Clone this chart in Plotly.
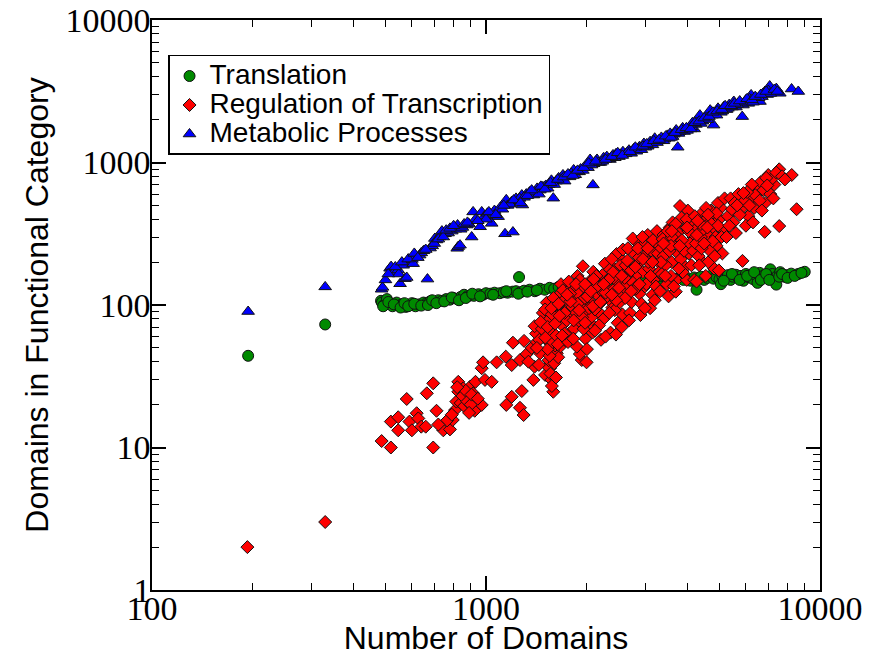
import plotly.graph_objects as go

# ---------------- data ----------------
translation_x = [194, 330,
    485, 488, 495, 505, 515, 525, 540, 550, 560, 575, 590, 600, 615, 630, 650, 665, 680, 700,
    720, 740, 760, 780, 800, 820, 840, 860, 880, 900, 920, 950, 980, 1000, 1030, 1060, 1100, 1130, 1160, 1200,
    1256, 1230, 1270, 1300, 1350, 1400, 1450, 1500, 1550, 1600, 1650, 1700, 1750, 1800, 1850, 1900, 1950, 2000, 2090, 2150,
    2200, 2300, 2400, 2500, 2600, 2700, 2800, 2900, 3000, 3100, 3200, 3300, 3400, 3500, 3600, 3700, 3800, 3900, 4000, 4100,
    4200, 4300, 4400, 4500, 4600, 4700, 4800, 4900, 5000, 5100, 5200, 5300, 5400, 5500, 5600, 5700, 5800, 5900, 6000, 6100,
    6200, 6300, 6450, 6600, 6700, 6800, 6950, 7100, 7200, 7300, 7450, 7600, 7800, 7900, 8200, 8600, 9000,
    4270, 7400, 5050, 6500, 3300,
    492, 510, 530, 555, 570, 585, 610, 640, 670, 690, 710, 750, 790, 830, 870, 910, 960, 1050, 1150, 1250,
    1330, 1420, 5150, 5450, 5750, 6050, 6350, 6650, 6900, 7050, 7550, 7700, 8000, 8400, 8800]
translation_y = [44, 73,
    107, 104, 100, 110, 102, 98, 104, 99, 101, 97, 100, 103, 98, 101, 104, 103, 106, 105,
    108, 107, 110, 109, 112, 110, 114, 118, 115, 117, 116, 119, 118, 121, 120, 122, 121, 123, 122, 124,
    157, 125, 123, 126, 128, 125, 130, 128, 132, 130, 134, 133, 136, 134, 138, 136, 140, 138, 145, 140,
    143, 141, 145, 143, 147, 144, 148, 146, 150, 147, 151, 149, 153, 150, 146, 152, 155, 150, 154, 148,
    156, 152, 158, 150, 155, 160, 153, 157, 152, 160, 155, 162, 150, 158, 163, 155, 160, 148, 165, 157,
    162, 152, 160, 168, 156, 162, 158, 178, 165, 152, 160, 170, 158, 162, 166, 165, 171,
    128, 139, 140, 143, 135,
    98, 105, 101, 96, 103, 98, 102, 99, 100, 108, 103, 106, 113, 108, 112, 120, 115, 118, 125, 120,
    124, 127, 148, 165, 150, 160, 170, 150, 165, 150, 158, 165, 155, 160, 168]

regulation_x = [
    193, 330,
    487, 519, 695, 579, 665, 695, 711, 519, 546, 546,
    590, 600, 620, 627, 640, 660, 745, 780, 795, 808,
    815, 826, 826, 855, 875, 896, 915, 930, 925, 971,
    993, 1040, 971, 980, 1076, 1146, 1150, 1194, 1204, 1194,
    1264, 1280, 1264, 1296, 1324, 1386, 1397, 1452, 1503, 1555,
    1570, 1590, 1555, 1629, 1667, 1725, 1775, 1935, 2000, 1910,
    840, 850, 860, 870, 880, 900, 905, 945, 820, 890,
    765, 790, 720, 1530, 1540, 1560, 1575, 1600, 1620, 1645,
    1585, 1610, 1550, 1340, 1370, 1420, 1440, 1480, 1300,
    # 1400-1700
    1412, 1655, 1530, 1480, 1690, 1445, 1602, 1566, 1398, 1634,
    1520, 1585, 1470, 1677, 1545, 1420, 1620, 1503, 1660, 1592,
    1458, 1575, 1640, 1505, 1700,
    # 1700-2100
    1742, 1985, 1810, 1905, 2060, 1760, 1880, 2020, 1835, 1950,
    1725, 2085, 1795, 1925, 2040, 1870, 1770, 1990, 1850, 2095,
    1720, 1935, 1815, 2005, 1890, 1745, 2070, 1960, 1825, 2035,
    1910, 1785, 1975, 2050, 1860,
    # 2100-2600
    2150, 2480, 2230, 2390, 2110, 2540, 2300, 2190, 2440, 2360,
    2580, 2270, 2130, 2500, 2210, 2420, 2330, 2560, 2170, 2460,
    2250, 2400, 2590, 2140, 2350, 2520, 2280, 2430, 2200, 2570,
    2310, 2490, 2120, 2380, 2260, 2550, 2450, 2180, 2340, 2530,
    # 2600-3300
    2650, 3100, 2780, 2950, 2700, 3220, 2880, 3050, 2620, 2990,
    2830, 3180, 2730, 3280, 2900, 2660, 3000, 2800, 3150, 2750,
    3250, 2850, 3080, 2610, 2960, 2700, 3200, 2920, 3020, 2680,
    3300, 2810, 3130, 2870, 2640, 3060, 2770, 3230, 2940, 3160,
    2720, 2990, 3270, 2850, 3110,
    # 3300-4200
    3350, 3950, 3480, 3800, 3600, 4100, 3400, 3720, 3900, 3550,
    4050, 3320, 3680, 3850, 4180, 3450, 3760, 3990, 3520, 4150,
    3620, 3360, 3880, 3700, 4020, 3470, 3830, 3580, 4120, 3400,
    3750, 3960, 3540, 4080, 3650, 3380, 3920, 3810, 3600, 4200,
    3500, 3700, 3860, 4040, 3440, 4170, 3580, 3780, 3340, 3990,
    # 4200-5200
    4300, 4900, 4450, 4750, 4250, 5050, 4600, 4380, 4820, 4520,
    5150, 4270, 4680, 4950, 4400, 4790, 4550, 5000, 4330, 4720,
    4480, 5100, 4630, 4870, 4220, 4420, 4980, 4770, 4560, 5180,
    4350, 4680, 4900, 4500, 4280, 5070, 4620, 4840, 4400, 4950,
    # 5200-8600
    5300, 6200, 5600, 7000, 5850, 6500, 5400, 6850, 5700, 7300,
    5250, 6100, 6650, 5500, 7550, 5950, 6350, 7150, 5450, 6000,
    6780, 5750, 7400, 6250, 5550, 6900, 5860, 6830, 7550, 8230,
    8510, 6400, 7100, 5650, 6600, 7700, 6050, 5350, 6950, 6300,
    7250, 5900, 7850, 6700, 6150,
    # core fill
    1530, 1720, 1610, 1880, 2010, 1690, 2150, 1790, 2280, 1940,
    2400, 1570, 2090, 1860, 2200, 1660, 2500, 1980, 2330, 1750,
    2600, 2060, 1830, 2450, 2720, 1900, 2250, 2120, 2380, 2650,
    2800, 3050, 2950, 3150, 3400, 3600, 3800, 4000, 4300, 4600,
    2100, 1650, 1980, 2550, 2880]
regulation_y = [
    2, 3,
    11.1, 10.0, 10.0, 21.9, 24.0, 28.2, 18.1, 15.2, 16.3, 13.2,
    15.2, 13.2, 17.4, 16.0, 14.0, 14.0, 13.2, 13.4, 15.6, 18.3,
    21.0, 24.6, 28.9, 26.0, 22.7, 26.7, 24.0, 28.9, 18.1, 19.9,
    29.8, 28.9, 36.0, 39.6, 39.6, 43.4, 19.9, 22.7, 54.4, 37.9,
    41.1, 24.9, 19.0, 16.9, 45.3, 29.8, 36.9, 45.8, 32.3, 36.0,
    29.8, 24.6, 53.8, 45.8, 50.9, 56.8, 63.2, 41.1, 39.6, 45.3,
    20.5, 23.0, 19.5, 25.0, 21.0, 20.0, 23.5, 22.0, 26.5, 17.5,
    15.5, 17.0, 14.5, 37.0, 41.0, 33.0, 27.0, 39.0, 31.0, 43.0,
    48.0, 52.0, 44.0, 40.0, 50.0, 55.0, 38.0, 60.0, 56.0,
    # 1400-1700
    63, 118, 49, 88, 72, 57, 96, 64, 71, 83,
    104, 55, 68, 140, 79, 50, 61, 93, 100, 112,
    76, 86, 53, 59, 127,
    # 1700-2100
    92, 58, 133, 76, 104, 55, 160, 122, 68, 187,
    110, 64, 84, 98, 146, 51, 146, 88, 112, 171,
    63, 130, 97, 49, 119, 78, 82, 68, 58, 95,
    150, 120, 112, 132, 88,
    # 2100-2600
    118, 75, 162, 96, 70, 210, 133, 88, 150, 64,
    124, 195, 142, 103, 57, 180, 110, 86, 100, 228,
    80, 127, 165, 160, 178, 140, 60, 92, 128, 245,
    150, 118, 93, 210, 110, 70, 62, 72, 88, 190,
    # 2600-3300
    140, 95, 230, 170, 88, 260, 120, 310, 190, 135,
    275, 150, 105, 200, 85, 250, 225, 160, 118, 293,
    330, 195, 180, 112, 265, 150, 108, 102, 140, 78,
    170, 130, 240, 215, 160, 200, 185, 135, 300, 285,
    125, 95, 230, 250, 160,
    # 3300-4200
    250, 185, 140, 330, 200, 420, 310, 150, 265, 350,
    230, 125, 280, 410, 300, 190, 230, 150, 115, 360,
    380, 165, 170, 124, 460, 270, 210, 160, 190, 220,
    300, 350, 240, 270, 135, 290, 240, 495, 300, 150,
    330, 370, 285, 330, 160, 240, 260, 180, 200, 400,
    # 4200-5200
    350, 260, 200, 420, 270, 480, 310, 430, 180, 390,
    330, 146, 240, 520, 300, 350, 160, 400, 220, 460,
    340, 230, 200, 300, 420, 250, 175, 280, 480, 560,
    190, 380, 440, 270, 310, 300, 430, 220, 370, 360,
    # 5200-8600
    420, 560, 320, 817, 480, 650, 560, 520, 600, 700,
    300, 420, 730, 380, 896, 540, 480, 760, 470, 360,
    640, 430, 850, 700, 520, 780, 204, 326, 358, 817,
    470, 590, 600, 500, 540, 800, 620, 360, 690, 380,
    560, 610, 760, 460, 500,
    # core fill
    70, 88, 74, 102, 115, 61, 135, 106, 122, 82,
    170, 95, 98, 140, 105, 84, 132, 75, 150, 118,
    155, 125, 78, 108, 175, 92, 140, 66, 118, 205,
    185, 250, 210, 200, 270, 330, 260, 350, 390, 350,
    152, 102, 140, 160, 140]

metabolic_x = [194, 330,
    487, 490, 500, 516, 520, 530, 546, 548, 553, 565, 572, 579, 581, 590, 600, 605, 615, 633,
    640, 650, 668, 680, 690, 703, 711, 725, 738, 754, 770, 790, 810, 820, 822, 826, 836, 840, 850, 876,
    890, 906, 915, 930, 960, 971, 990, 1010, 1040, 1060, 1087, 1100, 1140, 1150, 1160, 1194, 1204, 1230, 1250, 1280,
    1285, 1320, 1350, 1386, 1422, 1450, 1480, 1510, 1540, 1570, 1590, 1620, 1650, 1700, 1740, 1780, 1830, 1870, 1920, 1990,
    2020, 2050, 2090, 2100, 2150, 2200, 2250, 2300, 2350, 2400, 2450, 2500, 2570, 2620, 2680, 2770, 2820, 2880, 2970, 3050,
    3100, 3200, 3280, 3350, 3420, 3490, 3560, 3620, 3710, 3750, 3800, 3880, 3950, 4080, 4150, 4200, 4300, 4370, 4450, 4550,
    4690, 4800, 4850, 4950, 5050, 5150, 5250, 5350, 5520, 5600, 5700, 5850, 5880, 6000, 6100, 6220, 6350, 6450, 6610, 6700,
    6840, 6950, 7070, 7200, 7580, 8220, 8610,
    1000, 1120, 1180, 1260, 1300, 1400, 1440, 1530, 1600, 1680, 1720, 1800, 1850, 1900, 1950, 2070, 2170, 2230, 2330, 2430,
    2530, 2650, 2720, 2850, 2920, 3000, 3150, 3250, 3400, 3530, 3650, 3770, 3920, 4000, 4120, 4250, 4400, 4600, 4750, 4900,
    5100, 5300, 5450, 5650, 5950, 6150, 6300, 6550, 6750, 7000, 7100, 7400,
    1020, 1070, 1130, 1210, 1270, 1330, 1370, 1460, 1500, 1560, 1640, 1710, 1760, 1820, 1880, 1960, 2030, 2130, 2280, 2380,
    2480, 2560, 2700, 2800, 2950, 3030, 3180, 3300, 3450, 3580, 3680, 3850, 3980, 4100, 4220, 4350, 4500, 4650, 4780, 4920,
    5080, 5200, 5400, 5550, 5750, 6050, 6250, 6400, 6650, 6900, 7300, 7450,
    510, 535, 560, 585, 610, 625, 660, 700, 720, 745, 760, 780, 800, 860, 880, 945]
metabolic_y = [90, 134,
    129, 133, 150, 181, 186, 170, 176, 165, 141, 190, 153, 156, 201, 207, 209, 195, 220, 224,
    232, 240, 152, 251, 260, 293, 286, 300, 330, 316, 320, 330, 340, 250, 364, 257, 263, 340, 350, 364,
    370, 300, 450, 400, 354, 450, 420, 440, 374, 460, 417, 480, 316, 547, 500, 532, 325, 560, 540, 591,
    503, 600, 620, 591, 658, 640, 675, 690, 700, 750, 562, 740, 780, 818, 800, 793, 887, 860, 900, 941,
    920, 1050, 696, 980, 1050, 1000, 1080, 1100, 1050, 1130, 1150, 1100, 1190, 1150, 1220, 1250, 1200, 1290, 1360, 1300,
    1400, 1480, 1420, 1500, 1460, 1550, 1600, 1520, 1690, 1280, 1650, 1750, 1700, 1790, 1900, 1720, 2000, 2150, 1950, 2100,
    2330, 1830, 2200, 2400, 2250, 2460, 2350, 2550, 2680, 2450, 2600, 2100, 2530, 2750, 2600, 2980, 2800, 2700, 2680, 2900,
    3150, 3000, 3440, 3100, 3060, 3280, 3150,
    400, 470, 510, 560, 570, 620, 600, 660, 700, 760, 740, 840, 820, 860, 880, 960, 1000, 1020, 1060, 1080,
    1140, 1180, 1160, 1240, 1230, 1280, 1330, 1380, 1420, 1480, 1580, 1600, 1650, 1680, 1780, 1850, 1880, 2000, 2150, 2150,
    2300, 2400, 2450, 2550, 2650, 2800, 2650, 2850, 3050, 3200, 3050, 3300,
    450, 430, 500, 545, 520, 585, 640, 680, 650, 720, 760, 790, 830, 810, 880, 920, 990, 1020, 1050, 1100,
    1170, 1120, 1190, 1280, 1300, 1350, 1420, 1450, 1530, 1500, 1620, 1700, 1750, 1720, 1900, 1950, 2050, 2100, 2250, 2300,
    2350, 2500, 2500, 2600, 2700, 2800, 2750, 2900, 3000, 3150, 3250, 3150,
    165, 185, 200, 210, 230, 215, 245, 270, 290, 300, 335, 345, 360, 370, 380, 390]

x_tick_vals = [100, 1000, 10000]
x_tick_text = ["100", "1000", "10000"]
x_minor_vals = [200, 300, 400, 500, 600, 700, 800, 900,
                2000, 3000, 4000, 5000, 6000, 7000, 8000, 9000]
y_tick_vals = [1, 10, 100, 1000, 10000]
y_tick_text = ["1", "10", "100", "1000", "10000"]
y_minor_vals = [2, 3, 4, 5, 6, 7, 8, 9,
                20, 30, 40, 50, 60, 70, 80, 90,
                200, 300, 400, 500, 600, 700, 800, 900,
                2000, 3000, 4000, 5000, 6000, 7000, 8000, 9000]

# ---------------- figure ----------------
outline = dict(color="#111111", width=1)


def legend_name(s):
    return '<span style="font-size:28px">' + s + '</span>'


fig = go.Figure()
fig.add_trace(go.Scatter(
    x=translation_x, y=translation_y, mode="markers",
    name=legend_name("Translation"),
    marker=dict(symbol="circle", size=11, color="#008a00", line=outline)))
fig.add_trace(go.Scatter(
    x=regulation_x, y=regulation_y, mode="markers",
    name=legend_name("Regulation of Transcription"),
    marker=dict(symbol="diamond", size=10, color="#ff0000", line=outline)))
fig.add_trace(go.Scatter(
    x=metabolic_x, y=metabolic_y, mode="markers",
    name=legend_name("Metabolic Processes"),
    marker=dict(symbol="triangle-up", size=11, color="#0000ff", line=outline)))

tick_font = dict(family="Liberation Serif, Times New Roman, serif", size=34, color="black")
title_font = dict(family="Liberation Sans, Arial, sans-serif", size=32, color="black")

common_axis = dict(
    type="log",
    showgrid=False, zeroline=False,
    showline=True, linecolor="black", linewidth=1.5, mirror="ticks",
    ticks="inside", ticklen=14, tickwidth=1.5, tickcolor="black",
    tickfont=tick_font,
)

fig.update_xaxes(
    **common_axis,
    range=[2, 4],
    tickmode="array", tickvals=x_tick_vals, ticktext=x_tick_text,
    ticklabelstandoff=-13,
    minor=dict(tickmode="array", tickvals=x_minor_vals, ticks="inside",
               ticklen=7, tickwidth=1.2, tickcolor="black", showgrid=False),
    title=dict(text="Number of Domains", font=title_font, standoff=18),
)
fig.update_yaxes(
    **common_axis,
    range=[0, 4],
    tickmode="array", tickvals=y_tick_vals, ticktext=y_tick_text,
    ticklabelstandoff=-7,
    minor=dict(tickmode="array", tickvals=y_minor_vals, ticks="inside",
               ticklen=7, tickwidth=1.2, tickcolor="black", showgrid=False),
    title=dict(text="Domains in Functional Category", font=title_font, standoff=7),
)

fig.update_layout(
    width=871, height=656,
    margin=dict(l=152, r=51, t=20, b=66, autoexpand=False),
    plot_bgcolor="white", paper_bgcolor="white",
    font=dict(family="Liberation Sans, Arial, sans-serif", color="black"),
    showlegend=True,
    legend=dict(
        x=0.024, y=0.9386, xanchor="left", yanchor="top",
        bgcolor="white", bordercolor="black", borderwidth=1.5,
        font=dict(family="Liberation Sans, Arial, sans-serif", size=20, color="black"),
        tracegroupgap=0,
    ),
)

fig.write_html("out.html",
               config={"displayModeBar": False},
               post_script="document.body.style.margin='0';document.body.style.padding='0';")
